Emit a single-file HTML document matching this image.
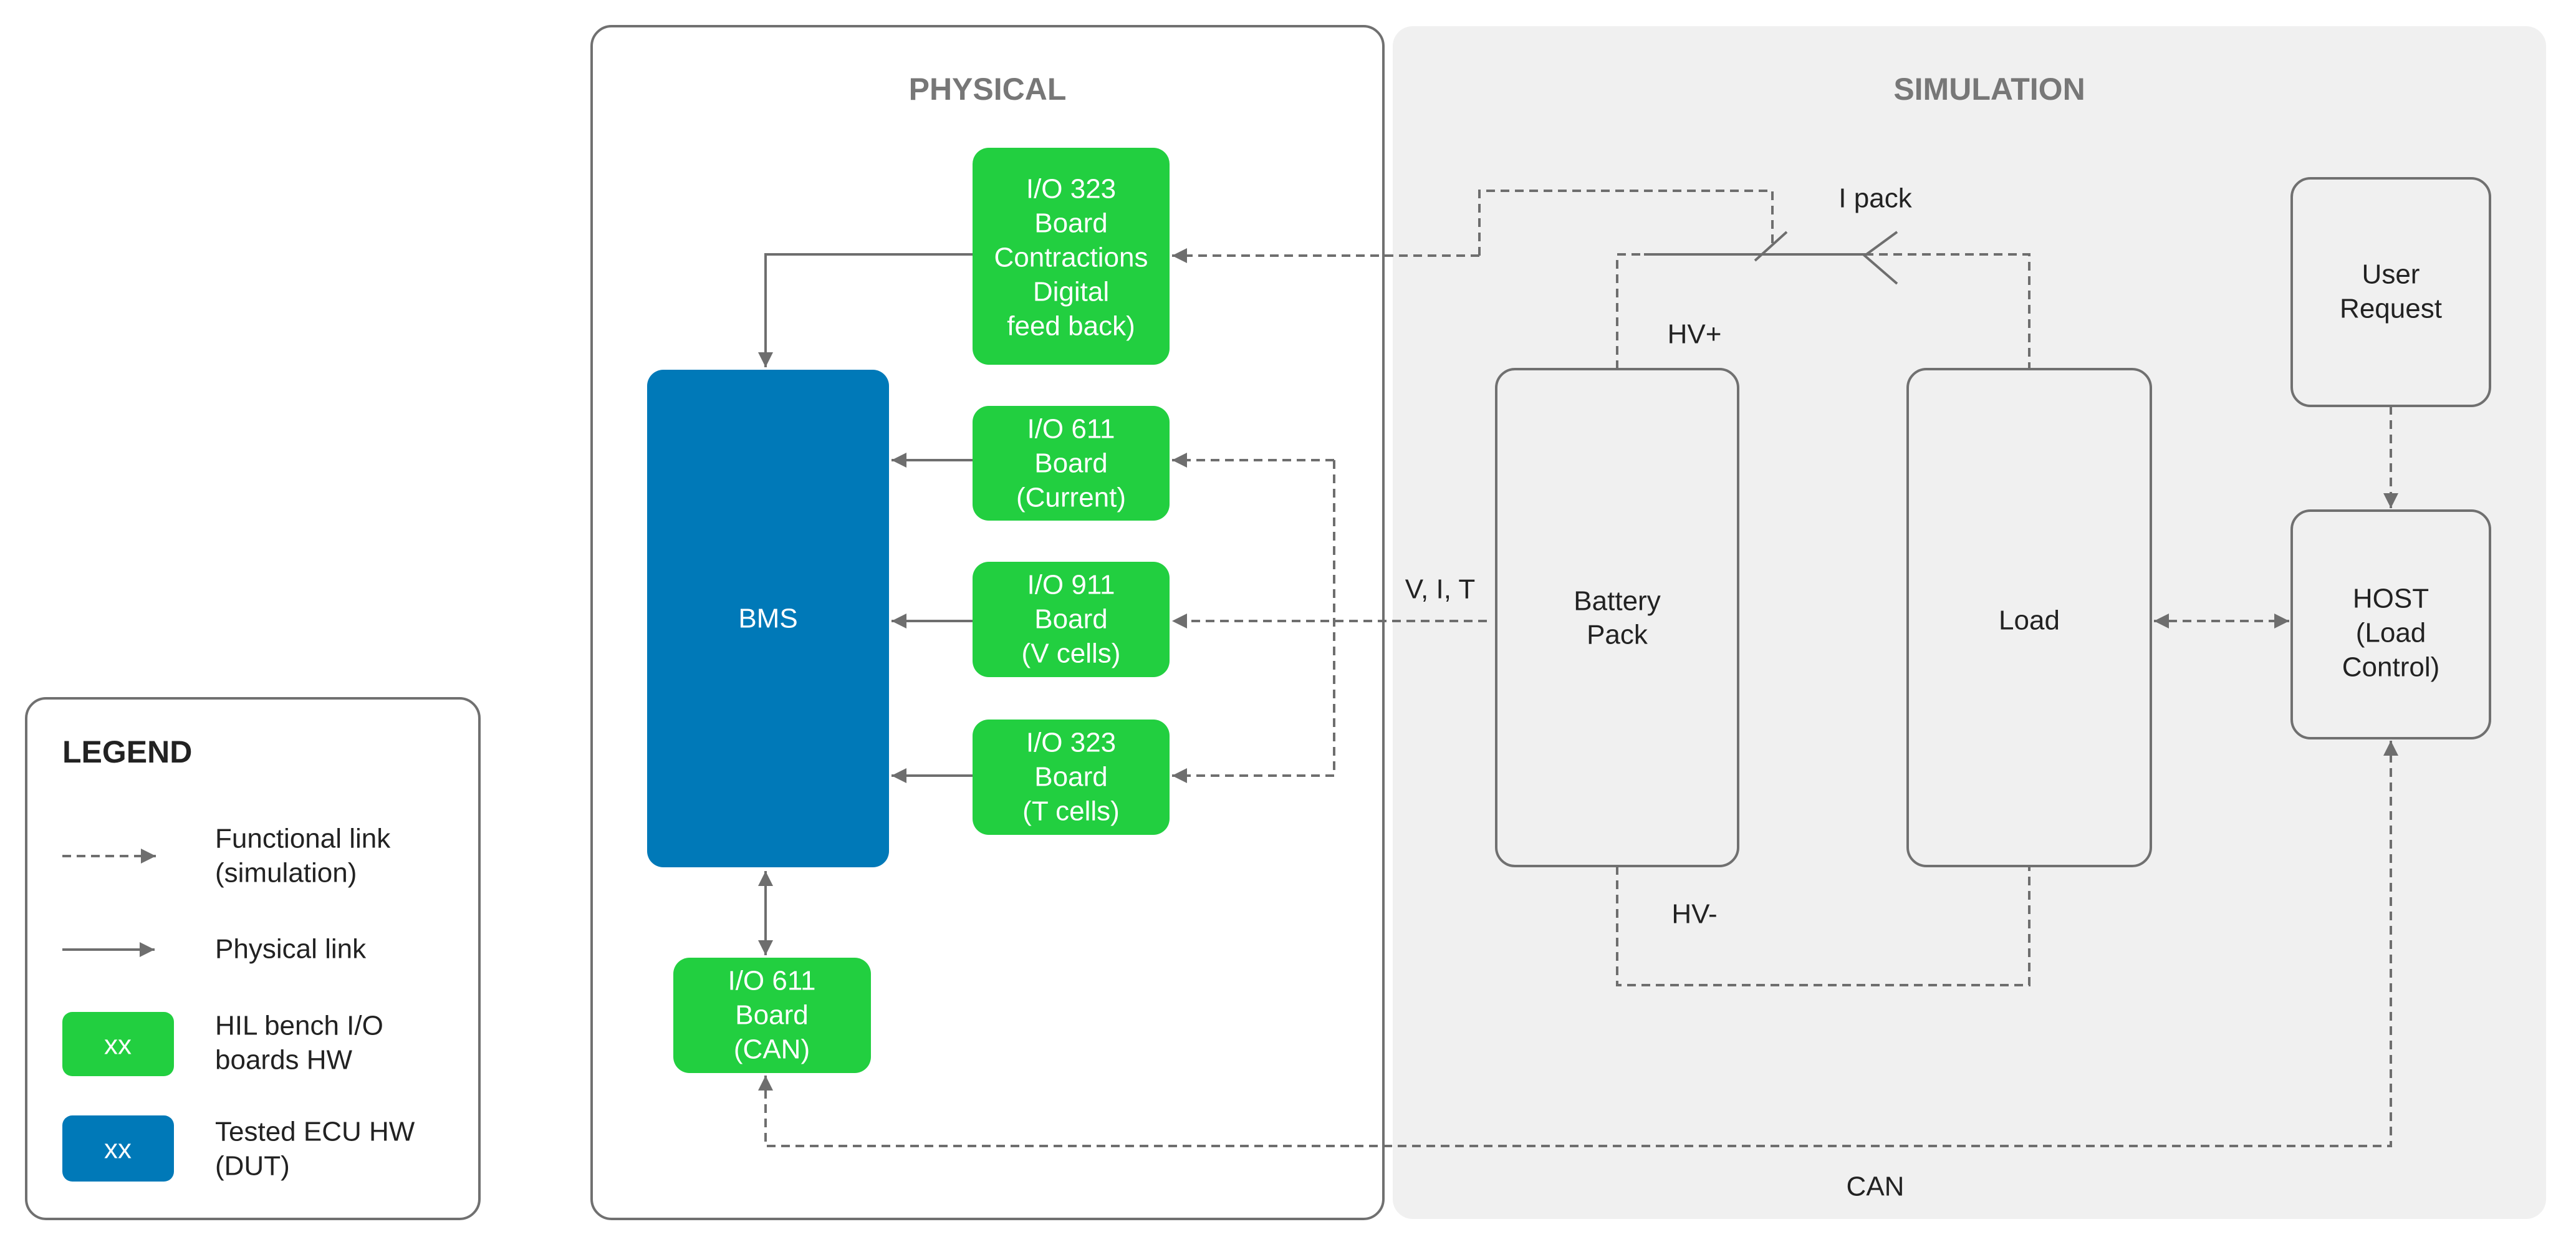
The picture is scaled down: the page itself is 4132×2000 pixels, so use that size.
<!DOCTYPE html>
<html><head><meta charset="utf-8"><style>
html,body{margin:0;padding:0;background:#fff;}
svg{display:block;}
text{font-family:"Liberation Sans",sans-serif;}
</style></head><body>
<svg width="4132" height="2000" viewBox="0 0 4132 2000" xmlns="http://www.w3.org/2000/svg">
<defs>
<marker id="a" viewBox="0 0 10 10" refX="10" refY="5" markerWidth="6" markerHeight="6" markerUnits="strokeWidth" orient="auto-start-reverse">
<path d="M0,0 L10,5 L0,10 z" fill="#6e6e6e"/></marker>
</defs>
<rect x="2234" y="42" width="1850" height="1913" rx="32" fill="#f0f0f0"/>
<rect x="949" y="42" width="1270" height="1913" rx="32" fill="none" stroke="#707070" stroke-width="4"/>
<rect x="42" y="1120" width="727" height="835" rx="32" fill="#fff" stroke="#707070" stroke-width="4"/>

<g font-size="50" font-weight="bold" fill="#777" text-anchor="middle">
<text x="1584" y="160">PHYSICAL</text>
<text x="3191" y="160">SIMULATION</text>
</g>

<g fill="#22cf40">
<rect x="1560" y="237" width="316" height="348" rx="26"/>
<rect x="1560" y="651" width="316" height="184" rx="26"/>
<rect x="1560" y="901" width="316" height="185" rx="26"/>
<rect x="1560" y="1154" width="316" height="185" rx="26"/>
<rect x="1080" y="1536" width="317" height="185" rx="26"/>
<rect x="100" y="1623" width="179" height="103" rx="16"/>
</g>
<rect x="1038" y="593" width="388" height="798" rx="26" fill="#0079b8"/>
<rect x="100" y="1789" width="179" height="106" rx="16" fill="#0079b8"/>

<g fill="none" stroke="#707070" stroke-width="4">
<rect x="2400" y="592" width="388" height="797" rx="30"/>
<rect x="3060" y="592" width="390" height="797" rx="30"/>
<rect x="3676" y="286" width="318" height="365" rx="30"/>
<rect x="3676" y="819" width="318" height="365" rx="30"/>
</g>

<g font-size="44" fill="#fff" text-anchor="middle" dominant-baseline="central">
<text x="1718" y="303">I/O 323</text><text x="1718" y="358">Board</text><text x="1718" y="413">Contractions</text><text x="1718" y="468">Digital</text><text x="1718" y="523">feed back)</text>
<text x="1718" y="688">I/O 611</text><text x="1718" y="743">Board</text><text x="1718" y="798">(Current)</text>
<text x="1718" y="938">I/O 911</text><text x="1718" y="993">Board</text><text x="1718" y="1048">(V cells)</text>
<text x="1718" y="1191">I/O 323</text><text x="1718" y="1246">Board</text><text x="1718" y="1301">(T cells)</text>
<text x="1238" y="1573">I/O 611</text><text x="1238" y="1628">Board</text><text x="1238" y="1683">(CAN)</text>
<text x="1232" y="992">BMS</text>
<text x="189" y="1676">xx</text>
<text x="189" y="1843">xx</text>
</g>

<g font-size="44" fill="#222" text-anchor="middle" dominant-baseline="central">
<text x="2594" y="964">Battery</text><text x="2594" y="1018">Pack</text>
<text x="3255" y="995">Load</text>
<text x="3835" y="440">User</text><text x="3835" y="495">Request</text>
<text x="3835" y="960">HOST</text><text x="3835" y="1015">(Load</text><text x="3835" y="1070">Control)</text>
<text x="3008" y="318">I pack</text>
<text x="2718" y="536">HV+</text>
<text x="2718" y="1466">HV-</text>
<text x="2310" y="945">V, I, T</text>
<text x="3008" y="1903">CAN</text>
</g>

<g font-size="44" fill="#222" dominant-baseline="central">
<text x="100" y="1206" font-weight="bold" font-size="50">LEGEND</text>
<text x="345" y="1345">Functional link</text><text x="345" y="1400">(simulation)</text>
<text x="345" y="1522">Physical link</text>
<text x="345" y="1645">HIL bench I/O</text><text x="345" y="1700">boards HW</text>
<text x="345" y="1815">Tested ECU HW</text><text x="345" y="1870">(DUT)</text>
</g>

<g fill="none" stroke="#6e6e6e" stroke-width="4">
<path d="M1560 408 H1228 V589" marker-end="url(#a)"/>
<path d="M1560 738 H1430" marker-end="url(#a)"/>
<path d="M1560 996 H1430" marker-end="url(#a)"/>
<path d="M1560 1244 H1430" marker-end="url(#a)"/>
<path d="M1228 1397 V1532" marker-start="url(#a)" marker-end="url(#a)"/>
<path d="M100 1523 H248" marker-end="url(#a)"/>
<path d="M2637 408 H2991"/>
<path d="M3043 372 L2991 410 L3043 455"/>
<path d="M2815 418 L2866 372"/>
</g>

<g fill="none" stroke="#6e6e6e" stroke-width="4" stroke-dasharray="14 9">
<path d="M2373 410 V306 H2843 V392"/>
<path d="M2373 410 H1880" marker-end="url(#a)"/>
<path d="M2385 996 H1880" marker-end="url(#a)"/>
<path d="M2140 738 H1880" marker-end="url(#a)"/>
<path d="M2140 738 V1244"/>
<path d="M2140 1244 H1880" marker-end="url(#a)"/>
<path d="M2594 592 V408 H2637"/>
<path d="M2991 408 H3255 V592"/>
<path d="M2594 1389 V1580 H3255 V1389"/>
<path d="M3455 996 H3672" marker-start="url(#a)" marker-end="url(#a)"/>
<path d="M3835 651 V815" marker-end="url(#a)"/>
<path d="M1228 1725 V1838 H3835 V1188" marker-start="url(#a)" marker-end="url(#a)"/>
<path d="M100 1373 H250" marker-end="url(#a)"/>
</g>
</svg>
</body></html>
